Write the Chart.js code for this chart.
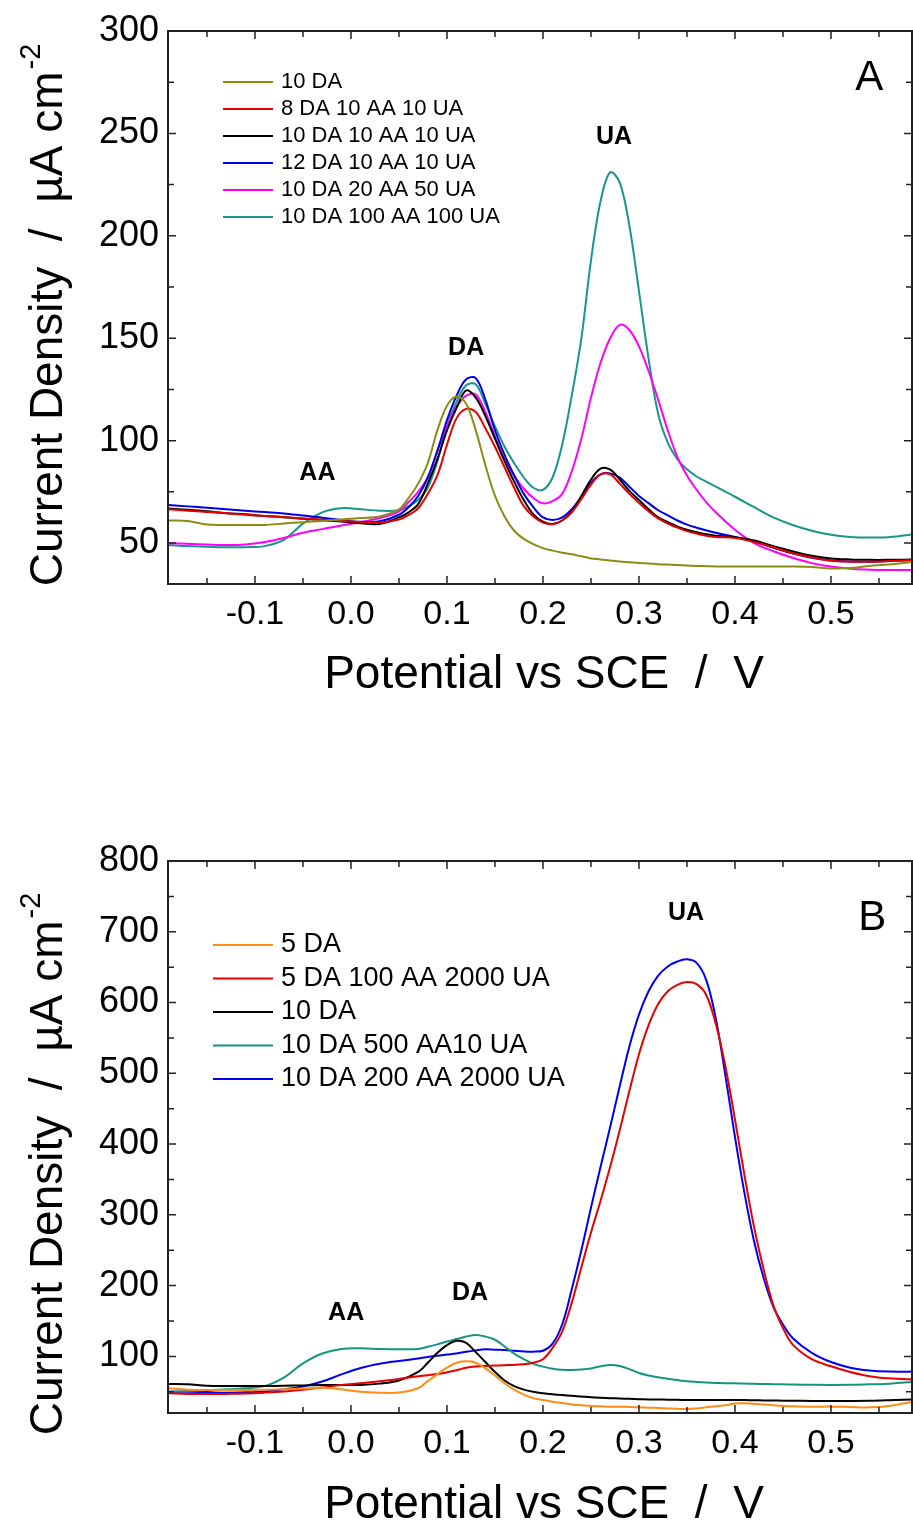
<!DOCTYPE html>
<html>
<head>
<meta charset="utf-8">
<title>DPV curves</title>
<script src="https://cdn.jsdelivr.net/npm/chart.js@4.4.1/dist/chart.umd.min.js"></script>
<style>
  html, body { margin: 0; padding: 0; background: #fff; overflow: hidden; }
  #boxA { position: absolute; left: 0; top: 0; width: 913px; height: 760px; }
  #boxB { position: absolute; left: 0; top: 760px; width: 913px; height: 763px; }
</style>
</head>
<body>
<div id="boxA"><canvas id="chartA"></canvas></div>
<div id="boxB"><canvas id="chartB"></canvas></div>
<script>
// ---- panel A data (potential in V vs SCE, current density in uA cm-2) ----
var potentialA = [-0.19, -0.17, -0.15, -0.13, -0.11, -0.09, -0.07, -0.05, -0.03, -0.01,
  0.01, 0.03, 0.05,
  0.06, 0.07, 0.08, 0.09, 0.10, 0.11, 0.12, 0.13, 0.14, 0.15,
  0.16, 0.17, 0.18, 0.19, 0.20, 0.21, 0.22, 0.23, 0.24, 0.25,
  0.26, 0.27, 0.28, 0.29, 0.30, 0.31, 0.32, 0.33, 0.34, 0.35,
  0.36, 0.37, 0.38,
  0.40, 0.42, 0.44, 0.46, 0.48, 0.50, 0.52, 0.54, 0.56,
  0.59];

var a_10DA = [61, 60.8, 59, 58.8, 58.8, 58.8, 59.5, 60.2, 60.8, 61.5,
  62.2, 63, 66.5,
  72, 79, 89, 105, 117, 121.5, 118, 105, 88, 73,
  63, 56, 52, 49.5, 47.5, 46.3, 45.3, 44.5, 43.5, 42.5,
  42, 41.5, 41, 40.6, 40.2, 40, 39.7, 39.5, 39.3, 39,
  38.8, 38.7, 38.6,
  38.5, 38.5, 38.5, 38.5, 38.3, 37.6, 37.8, 38.8, 39.5,
  41];
var a_8DA10AA10UA = [66.5, 65.8, 65.2, 64.5, 63.8, 63.2, 62.6, 62, 61.4, 60.8,
  60.2, 60, 61.5,
  63.7, 67, 74, 83, 98, 111, 115.5, 114, 106, 97,
  87, 77, 68, 63, 60, 59.2, 61, 65, 71.5, 78.5,
  83.5, 83.5, 79, 74, 69.5, 65.5, 62, 59.5, 57.5, 55.8,
  54.6, 53.6, 53,
  52.4, 50.5, 47.8, 45, 43, 41.3, 40.9, 40.9, 41.2,
  41.8];
var a_10DA10AA10UA = [66.9, 66.2, 65.5, 64.6, 64, 63.2, 62.6, 61.8, 61.2, 60.5,
  59.6, 59.3, 62.5,
  65, 69, 79, 91, 105, 116, 124.5, 121, 112, 101,
  90, 80, 71, 64, 60.5, 59.3, 61, 65.5, 73, 81,
  86.3, 85.8, 81, 75.5, 71, 66.5, 62.5, 60.2, 58, 56.5,
  55.3, 54.3, 53.6,
  52.8, 51.2, 48.5, 46, 43.8, 42.5, 42, 41.8, 41.8,
  42];
var a_12DA10AA10UA = [68.6, 67.9, 67.2, 66.5, 65.8, 65.1, 64.4, 63.4, 62.4, 61.2,
  60.4, 60.6, 63.8,
  67.5, 73, 82, 95, 110, 122, 130, 130.5, 120, 105,
  93, 83, 74, 67.5, 62.5, 61.2, 62.5, 66.5, 72.5, 79.5,
  83.5, 84, 82, 77.5, 73, 69.5, 66, 63.5, 61, 59,
  57.5, 56.2, 55,
  53, 50.8, 47.8, 45, 42.8, 41.5, 41, 40.9, 41.2,
  41.8];
var a_10DA20AA50UA = [49.9, 49.6, 49.3, 49, 49.3, 50.5, 52.5, 55, 56.8, 58.6,
  60.2, 62.2, 65.5,
  70, 75, 82, 95, 107, 116.6, 122, 122.5, 114, 102,
  91, 83, 76.5, 72, 69.4, 70.5, 74, 85, 101, 121,
  138, 150, 156.5, 154, 146, 134, 120, 105, 92, 83,
  76, 70, 65,
  56.5, 50, 46, 42.8, 40.2, 38.5, 37.4, 37, 36.8,
  36.8];
var a_10DA100AA100UA = [49, 48.5, 48.2, 47.9, 48, 48.5, 51.5, 59.5, 65, 67,
  66.5, 65.8, 66,
  68, 71, 77, 90, 107, 119, 127, 127.5, 118, 107,
  97, 89, 82, 77, 76, 82, 98, 122, 150, 188,
  217, 231, 226, 205, 173, 140, 113, 99, 91, 86,
  82.5, 80, 77.5,
  72.6, 67.5, 62.5, 58.8, 56, 54, 53, 52.7, 52.8,
  54.5];
var labelsA = ['10 DA', '8 DA 10 AA 10 UA', '10 DA 10 AA 10 UA', '12 DA 10 AA 10 UA',
  '10 DA 20 AA 50 UA', '10 DA 100 AA 100 UA'];

// ---- panel B data ----
var potentialB = [-0.19, -0.17, -0.15, -0.13, -0.11, -0.09, -0.07, -0.05, -0.03, -0.01,
  0.01, 0.03, 0.05,
  0.07, 0.08, 0.09, 0.10, 0.11, 0.12, 0.13, 0.14, 0.15, 0.16,
  0.17, 0.18, 0.19, 0.20, 0.21, 0.22, 0.23, 0.24, 0.25, 0.26,
  0.27, 0.28, 0.29, 0.30, 0.31, 0.32, 0.33, 0.34, 0.35, 0.36,
  0.37, 0.38, 0.39, 0.40, 0.41, 0.42, 0.43, 0.44, 0.45, 0.46,
  0.48, 0.50, 0.52, 0.54, 0.56,
  0.59];

var b_5DA = [54.9, 53, 52.5, 52.5, 52.5, 52.8, 53.5, 54.5, 55.8, 53.5,
  50, 48.7, 49,
  55, 65, 75, 84, 91, 93, 91, 83, 73, 62,
  53, 46, 41, 38.4, 36, 34, 32, 31, 30, 29.5,
  29, 28.8, 28.5, 28, 27.5, 27, 26.5, 26, 25.5, 26.5,
  28, 29.5, 31, 33.5, 33.7, 33, 32, 31, 30, 29.5,
  29, 29, 28.5, 28, 30,
  37];
var b_5DA100AA2000UA = [47.8, 47, 46.8, 47, 47.5, 48.8, 50.5, 53, 56, 59.6,
  62, 64.8, 68,
  72, 73.5, 75, 77.5, 80.5, 84, 85.8, 86.5, 87, 87.5,
  88, 89, 91, 96, 112, 135, 176, 226, 275, 320,
  368, 420, 475, 527, 568, 598, 616, 625, 629, 626,
  611, 570, 510, 435, 355, 282, 222, 172, 140, 117,
  96, 86, 78, 72, 69,
  67];
var b_10DA = [61, 60.5, 58.5, 58.2, 58.2, 58.2, 58.5, 59, 59.5, 59.6,
  59.6, 61.5, 66,
  78, 91, 105, 116, 122, 119, 106, 92, 78, 66,
  58, 53, 50, 48, 46.5, 45.3, 44.3, 43.3, 42.2, 41.5,
  41, 40.5, 40, 39.5, 39.2, 39, 38.8, 38.6, 38.5, 38.4,
  38.4, 38.4, 38.4, 38.4, 38.2, 38, 37.8, 37.6, 37.4, 37.3,
  37.1, 37, 37, 37.2, 38,
  39.5];
var b_10DA500AA10UA = [50, 51, 52.5, 53.5, 55, 58, 70, 90, 104, 110.5,
  111.4, 110.4, 110,
  110.5, 113.5, 117, 121, 124.5, 128, 130.2, 128, 123.5, 114,
  104, 96, 89.5, 85.5, 82.5, 81, 80.8, 81.5, 83, 86,
  87.8, 86.5, 82, 76.5, 73, 70.5, 68.5, 66.5, 64.8, 63.8,
  63, 62.5, 62.2, 62, 61.6, 61.2, 61, 60.7, 60.5, 60.2,
  59.9, 59.6, 59.8, 60.5, 61.5,
  64.5];
var b_10DA200AA2000UA = [50, 50, 49.5, 48.7, 49.2, 50.5, 53.5, 57.5, 64.5, 74.5,
  83.5, 89.5, 93.5,
  97, 99, 101, 102.5, 104, 106.5, 108.5, 110, 109.5, 109,
  108, 107, 106.7, 108, 118, 145, 195, 250, 310, 368,
  424, 482, 538, 583, 616, 638, 651, 658, 661, 656,
  632, 578, 497, 410, 330, 262, 210, 170, 145, 126,
  105, 92, 84, 80, 78.5,
  78.5];
var labelsB = ['5 DA', '5 DA 100 AA 2000 UA', '10 DA', '10 DA 500 AA10 UA', '10 DA 200 AA 2000 UA'];

// ---- axis ticks ----
var potentialTicks = [-0.1, 0.0, 0.1, 0.2, 0.3, 0.4, 0.5];
var potentialMinor = [-0.15, -0.05, 0.05, 0.15, 0.25, 0.35, 0.45, 0.55];
var currentTicksA = [50, 100, 150, 200, 250, 300];
var currentMinorA = [75, 125, 175, 225, 275];
var currentTicksB = [100, 200, 300, 400, 500, 600, 700, 800];
var currentMinorB = [50, 150, 250, 350, 450, 550, 650, 750];

var FONT = '"Liberation Sans", Arial, sans-serif';
Chart.defaults.font.family = FONT;
Chart.defaults.color = '#000';

// frame with inward ticks, legend, peak labels and axis titles
var decor = {
  id: 'decor',
  afterDraw: function(chart, args, o) {
    var ctx = chart.ctx, a = chart.chartArea;
    var xs = chart.scales.x, ys = chart.scales.y;
    ctx.save();

    ctx.strokeStyle = '#222';
    ctx.lineWidth = 1.5;
    ctx.beginPath();
    var addX = function(v, len) {
      var px = xs.getPixelForValue(v);
      ctx.moveTo(px, a.bottom); ctx.lineTo(px, a.bottom - len);
      ctx.moveTo(px, a.top); ctx.lineTo(px, a.top + len);
    };
    var addY = function(v, len) {
      if (v <= ys.min || v >= ys.max) return;
      var py = ys.getPixelForValue(v);
      ctx.moveTo(a.left, py); ctx.lineTo(a.left + len, py);
      ctx.moveTo(a.right, py); ctx.lineTo(a.right - len, py);
    };
    o.xMajor.forEach(function(v) { addX(v, 8); });
    o.xMinor.forEach(function(v) { addX(v, 6); });
    o.yMajor.forEach(function(v) { addY(v, 8); });
    o.yMinor.forEach(function(v) { addY(v, 6); });
    ctx.stroke();
    ctx.lineWidth = 2;
    ctx.strokeRect(a.left, a.top, a.right - a.left, a.bottom - a.top);

    // legend
    var lg = o.legend;
    ctx.font = lg.size + 'px ' + FONT;
    ctx.textBaseline = 'middle';
    ctx.textAlign = 'left';
    chart.data.datasets.forEach(function(ds, i) {
      var y = lg.y + i * lg.dy;
      ctx.strokeStyle = ds.borderColor;
      ctx.lineWidth = 2;
      ctx.beginPath();
      ctx.moveTo(lg.x1, y); ctx.lineTo(lg.x2, y);
      ctx.stroke();
      ctx.fillStyle = '#000';
      ctx.fillText(ds.label, lg.tx, y);
    });

    // peak labels
    ctx.textAlign = 'center';
    o.notes.forEach(function(n) {
      ctx.font = n.font + ' ' + FONT;
      ctx.fillText(n.text, xs.getPixelForValue(n.x), ys.getPixelForValue(n.y));
    });

    // x title
    ctx.font = o.titleSize + 'px ' + FONT;
    ctx.textBaseline = 'alphabetic';
    ctx.fillText(o.xTitle, (a.left + a.right) / 2 + 4, o.xTitleY);

    // y title with superscript
    var big = o.titleSize + 'px ' + FONT, small = Math.round(o.titleSize * 0.62) + 'px ' + FONT;
    ctx.font = big;
    var w1 = ctx.measureText(o.yTitle).width;
    ctx.font = small;
    var w2 = ctx.measureText(o.yTitleSup).width;
    ctx.translate(o.yTitleX, o.yTitleCY);
    ctx.rotate(-Math.PI / 2);
    ctx.textAlign = 'left';
    var x0 = -(w1 + w2) / 2;
    ctx.font = big;
    ctx.fillText(o.yTitle, x0, 0);
    ctx.font = small;
    ctx.fillText(o.yTitleSup, x0 + w1 + 2, -o.titleSize * 0.48);
    ctx.restore();
  }
};

function buildSets(xs, series, labels, colors) {
  return series.map(function(ys, i) {
    return {
      label: labels[i],
      data: xs.map(function(x, j) { return { x: x, y: ys[j] }; }),
      borderColor: colors[i],
      borderWidth: 2,
      pointRadius: 0,
      fill: false,
      tension: 0.35
    };
  });
}

function makeChart(id, sets, o) {
  return new Chart(document.getElementById(id).getContext('2d'), {
    type: 'line',
    data: { datasets: sets },
    options: {
      responsive: true,
      maintainAspectRatio: false,
      animation: false,
      layout: { padding: { left: 0, right: 1, top: o.top, bottom: 0 } },
      plugins: { legend: { display: false }, tooltip: { enabled: false }, decor: o.decor },
      scales: {
        x: {
          type: 'linear',
          min: -0.1906,
          max: 0.5844,
          grid: { display: false, drawTicks: false },
          border: { display: false },
          afterFit: function(s) { s.height = o.xHeight; },
          afterBuildTicks: function(s) { s.ticks = potentialTicks.map(function(v) { return { value: v }; }); },
          ticks: {
            autoSkip: false, maxRotation: 0, padding: 10,
            font: { size: 34 },
            callback: function(v) { return Number(v).toFixed(1); }
          }
        },
        y: {
          min: o.yMin,
          max: o.yMax,
          grid: { display: false, drawTicks: false },
          border: { display: false },
          afterFit: function(s) { s.width = 168; },
          afterBuildTicks: function(s) { s.ticks = o.yTicks.map(function(v) { return { value: v }; }); },
          ticks: { autoSkip: false, padding: 9, font: { size: 36 } }
        }
      }
    },
    plugins: [decor]
  });
}

makeChart('chartA',
  buildSets(potentialA,
    [a_10DA, a_8DA10AA10UA, a_10DA10AA10UA, a_12DA10AA10UA, a_10DA20AA50UA, a_10DA100AA100UA],
    labelsA,
    ['#8c8c14', '#e80000', '#000000', '#0000e6', '#ff00ff', '#18968c']),
  {
    top: 31, xHeight: 176, yMin: 30, yMax: 300, yTicks: currentTicksA,
    decor: {
      xMajor: potentialTicks, xMinor: potentialMinor, yMajor: currentTicksA, yMinor: currentMinorA,
      legend: { x1: 223, x2: 273, tx: 281, y: 82, dy: 27, size: 22 },
      notes: [
        { text: 'UA', x: 0.274, y: 248, font: 'bold 25px' },
        { text: 'DA', x: 0.120, y: 145, font: 'bold 25px' },
        { text: 'AA', x: -0.035, y: 84, font: 'bold 25px' },
        { text: 'A', x: 0.540, y: 277, font: '42px' }
      ],
      titleSize: 46,
      xTitle: 'Potential vs SCE  /  V', xTitleY: 688,
      yTitle: 'Current Density  /  \u00b5A cm', yTitleSup: '-2', yTitleX: 62, yTitleCY: 316
    }
  });

makeChart('chartB',
  buildSets(potentialB,
    [b_5DA, b_5DA100AA2000UA, b_10DA, b_10DA500AA10UA, b_10DA200AA2000UA],
    labelsB,
    ['#ff8c14', '#e80000', '#000000', '#14967e', '#0000f0']),
  {
    top: 101, xHeight: 110, yMin: 20, yMax: 800, yTicks: currentTicksB,
    decor: {
      xMajor: potentialTicks, xMinor: potentialMinor, yMajor: currentTicksB, yMinor: currentMinorB,
      legend: { x1: 213, x2: 273, tx: 281, y: 185, dy: 33.5, size: 27 },
      notes: [
        { text: 'UA', x: 0.349, y: 726, font: 'bold 25px' },
        { text: 'DA', x: 0.124, y: 190, font: 'bold 25px' },
        { text: 'AA', x: -0.005, y: 161, font: 'bold 25px' },
        { text: 'B', x: 0.543, y: 719, font: '42px' }
      ],
      titleSize: 46,
      xTitle: 'Potential vs SCE  /  V', xTitleY: 758,
      yTitle: 'Current Density  /  \u00b5A cm', yTitleSup: '-2', yTitleX: 62, yTitleCY: 405
    }
  });
</script>
</body>
</html>
